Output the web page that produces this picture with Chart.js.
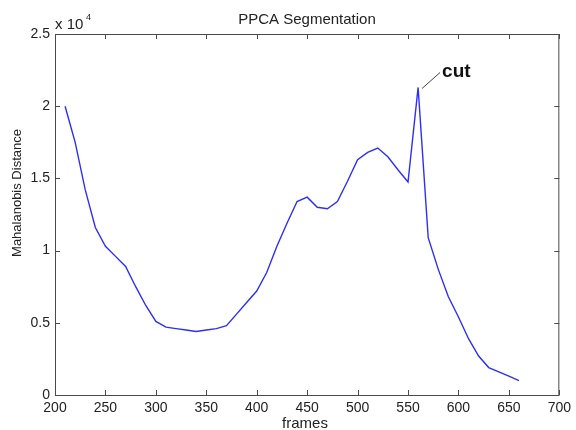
<!DOCTYPE html>
<html>
<head>
<meta charset="utf-8">
<script src="https://cdn.jsdelivr.net/npm/chart.js@4.4.0/dist/chart.umd.min.js"></script>
<style>
  html, body { margin: 0; padding: 0; background: #ffffff; }
  #wrap { width: 576px; height: 430px; position: relative; }
</style>
</head>
<body>
<div id="wrap"><canvas id="ppca-chart"></canvas></div>
<script>
// ==========================================
// DATA
// ==========================================

const frames = [210, 220, 230, 240, 250, 260, 270, 280, 290, 300,
  310, 320, 330, 340, 350, 360, 370, 380, 390, 400,
  410, 420, 430, 440, 450, 460, 470, 480, 490, 500,
  510, 520, 530, 540, 550, 560, 570, 580, 590, 600,
  610, 620, 630, 640, 650, 660];

const distance = [20000, 17500, 14200, 11600, 10300, 9600, 8900, 7500, 6200, 5100,
  4700, 4600, 4500, 4400, 4500, 4600, 4800, 5600, 6400, 7200,
  8500, 10300, 11900, 13400, 13700, 13000, 12900, 13400, 14800, 16300,
  16800, 17100, 16500, 15600, 14750, 21300, 10900, 8700, 6800, 5400,
  3900, 2700, 1900, 1600, 1300, 1000];

const xTicks = [200, 250, 300, 350, 400, 450, 500, 550, 600, 650, 700];
const yTicks = [0, 5000, 10000, 15000, 20000, 25000];

const cutFrame = 560;
const cutValue = 21300;

const FONT = "'Liberation Sans', Arial, sans-serif";
const INK = '#222222';

// ==========================================
// MATLAB-STYLE BOX, INWARD TICKS AND TEXT
// ==========================================

const matlabAxes = {
  id: 'matlabAxes',
  afterDraw(chart) {
    const { ctx, chartArea: a, scales } = chart;
    const tl = 5;
    ctx.save();

    // box
    ctx.strokeStyle = '#4a4a4a';
    ctx.lineWidth = 1;
    ctx.strokeRect(a.left + 0.5, a.top + 0.5, a.right - a.left - 1, a.bottom - a.top);

    // inward ticks
    ctx.beginPath();
    xTicks.forEach(v => {
      const px = Math.round(scales.x.getPixelForValue(v)) + 0.5;
      ctx.moveTo(px, a.bottom); ctx.lineTo(px, a.bottom - tl);
      ctx.moveTo(px, a.top); ctx.lineTo(px, a.top + tl);
    });
    yTicks.forEach(v => {
      const py = Math.round(scales.y.getPixelForValue(v)) + 0.5;
      ctx.moveTo(a.left, py); ctx.lineTo(a.left + tl, py);
      ctx.moveTo(a.right, py); ctx.lineTo(a.right - tl, py);
    });
    ctx.stroke();

    ctx.fillStyle = INK;

    // title
    ctx.font = '15px ' + FONT;
    ctx.textAlign = 'center';
    ctx.textBaseline = 'alphabetic';
    ctx.fillText('PPCA Segmentation', 307, 24);

    // x axis label
    ctx.fillText('frames', 305, 428);

    // exponent
    ctx.textAlign = 'left';
    ctx.fillText('x 10', 55, 29);
    ctx.font = '9px ' + FONT;
    ctx.fillText('4', 86, 20);

    // y axis label
    ctx.save();
    ctx.translate(21, 193);
    ctx.rotate(-Math.PI / 2);
    ctx.font = '13px ' + FONT;
    ctx.textAlign = 'center';
    ctx.fillText('Mahalanobis Distance', 0, 0);
    ctx.restore();

    // "cut" annotation
    const cx = scales.x.getPixelForValue(cutFrame);
    const cy = scales.y.getPixelForValue(cutValue);
    ctx.strokeStyle = '#444444';
    ctx.lineWidth = 1;
    ctx.beginPath();
    ctx.moveTo(cx + 4, cy + 1);
    ctx.lineTo(cx + 22, cy - 15);
    ctx.stroke();
    ctx.font = 'bold 19px ' + FONT;
    ctx.textAlign = 'left';
    ctx.fillStyle = '#111111';
    ctx.fillText('cut', cx + 24, cy - 10);

    ctx.restore();
  }
};

// ==========================================
// CHART
// ==========================================

const ctx = document.getElementById('ppca-chart').getContext('2d');

new Chart(ctx, {
  type: 'line',
  data: {
    datasets: [{
      label: 'Mahalanobis Distance',
      data: frames.map((f, i) => ({ x: f, y: distance[i] })),
      borderColor: 'rgb(45, 45, 255)',
      borderWidth: 1.4,
      pointRadius: 0,
      fill: false,
      tension: 0
    }]
  },
  options: {
    responsive: true,
    maintainAspectRatio: false,
    animation: false,
    layout: { padding: { left: 0, top: 34, right: 14, bottom: 0 } },
    plugins: {
      legend: { display: false },
      tooltip: { enabled: false }
    },
    scales: {
      x: {
        type: 'linear',
        min: 200,
        max: 700,
        afterBuildTicks: scale => { scale.ticks = xTicks.map(v => ({ value: v })); },
        afterFit: scale => { scale.height = 35; },
        grid: { display: false, drawTicks: false },
        border: { display: false },
        ticks: {
          padding: 5,
          color: INK,
          font: { family: FONT, size: 14 },
          maxRotation: 0,
          callback: v => v
        }
      },
      y: {
        type: 'linear',
        min: 0,
        max: 25000,
        afterBuildTicks: scale => { scale.ticks = yTicks.map(v => ({ value: v })); },
        afterFit: scale => { scale.width = 55; },
        grid: { display: false, drawTicks: false },
        border: { display: false },
        ticks: {
          padding: 5,
          color: INK,
          font: { family: FONT, size: 14 },
          callback: v => String(v / 10000)
        }
      }
    }
  },
  plugins: [matlabAxes]
});
</script>
</body>
</html>
